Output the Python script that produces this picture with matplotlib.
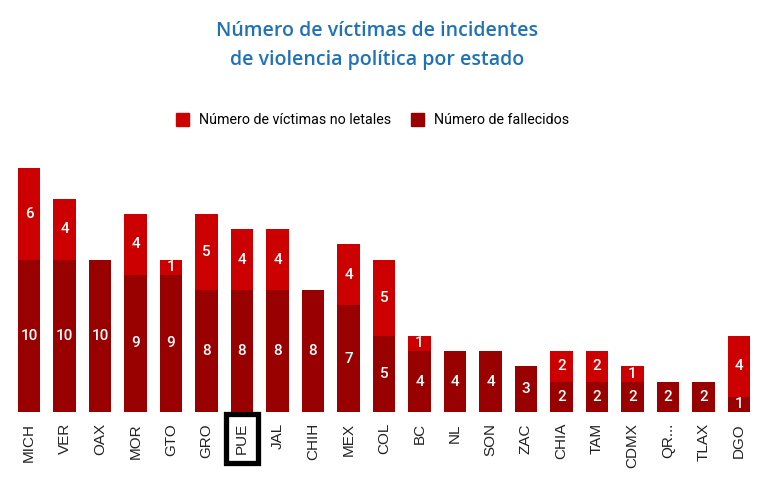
import numpy as np
import matplotlib.pyplot as plt
from matplotlib.patches import Patch

estados = ["MICH", "VER", "OAX", "MOR", "GTO", "GRO", "PUE", "JAL", "CHIH", "MEX", "COL",
           "BC", "NL", "SON", "ZAC", "CHIA", "TAM", "CDMX", "QR...", "TLAX", "DGO"]
fallecidos = [10, 10, 10, 9, 9, 8, 8, 8, 8, 7, 5, 4, 4, 4, 3, 2, 2, 2, 2, 2, 1]
no_letales = [6, 4, 0, 4, 1, 5, 4, 4, 0, 4, 5, 1, 0, 0, 0, 2, 2, 1, 0, 0, 4]

c_dark = "#990000"
c_red = "#cc0000"

fig = plt.figure(figsize=(7.61, 4.91), dpi=100)
ax = fig.add_axes([11.25 / 761, 79 / 491, 745.5 / 761, 262 / 491])

x = np.arange(len(estados))
w = 0.64
ax.bar(x, fallecidos, width=w, color=c_dark, zorder=2)
ax.bar(x, no_letales, width=w, bottom=fallecidos, color=c_red, zorder=2)

for i in range(len(estados)):
    f = fallecidos[i]
    n = no_letales[i]
    if f > 0:
        ax.text(x[i], f / 2, str(f), ha="center", va="center", color="white",
                fontsize=11, fontfamily="Roboto", fontweight="medium")
    if n > 0:
        ax.text(x[i], f + n / 2, str(n), ha="center", va="center", color="white",
                fontsize=11, fontfamily="Roboto", fontweight="medium")

ax.set_xlim(-0.5, len(estados) - 0.5)
ax.set_ylim(0, 17.2)
ax.set_xticks(x)
ax.set_xticklabels(estados, rotation=90, fontsize=11, fontfamily="Liberation Sans", color="#222222")
ax.tick_params(axis="x", length=0, pad=8)
ax.set_yticks([])
for s in ax.spines.values():
    s.set_visible(False)

# recuadro en PUE
lbl = ax.get_xticklabels()[estados.index("PUE")]
lbl.set_bbox(dict(facecolor="none", edgecolor="black", linewidth=3.8, pad=6.5))

fig.text(0.495, 1 - 31 / 491, "Número de víctimas de incidentes", ha="center", va="center",
         fontsize=14, fontfamily="Open Sans", fontweight="semibold", color="#1f72b8")
fig.text(0.495, 1 - 60 / 491, "de violencia política por estado", ha="center", va="center",
         fontsize=14, fontfamily="Open Sans", fontweight="semibold", color="#1f72b8")

handles = [Patch(color=c_red, label="Número de víctimas no letales"),
           Patch(color=c_dark, label="Número de fallecidos")]
fig.legend(handles=handles, loc="center", bbox_to_anchor=(0.49, 1 - 120 / 491), ncol=2,
           frameon=False, prop={"family": "Roboto", "size": 10.3},
           handlelength=0.9, handleheight=1.0, handletextpad=0.7, columnspacing=1.4)

fig.savefig("out.png", dpi=100)
